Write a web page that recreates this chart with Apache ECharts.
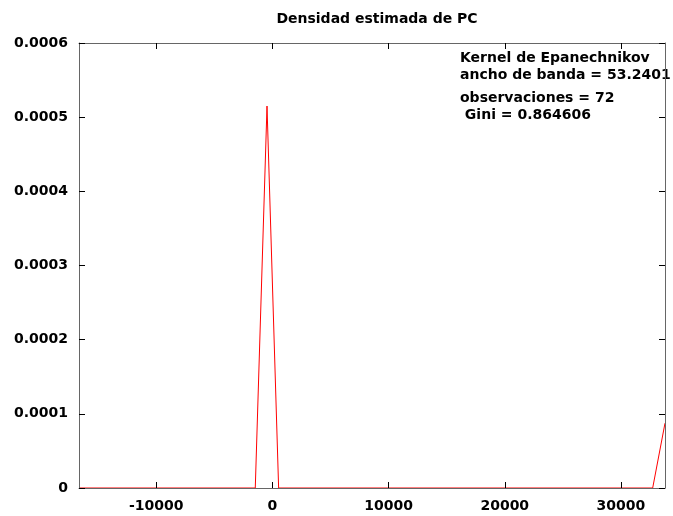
<!DOCTYPE html>
<html>
<head>
<meta charset="utf-8">
<script src="https://cdn.jsdelivr.net/npm/echarts@6/dist/echarts.min.js"></script>
<style>
  html, body { margin: 0; padding: 0; background: #fff; }
  #main { width: 673px; height: 516px; }
</style>
</head>
<body>
<div id="main"></div>
<script>
// estimated density curve (x, density)
var xs = [-16640, -1470, -460, 540, 32730, 33790];
var dens = [0, 0, 0.000515, 0, 0, 0.0000874];
var xTicks = [-10000, 0, 10000, 20000, 30000];
var yTicks = [0, 0.0001, 0.0002, 0.0003, 0.0004, 0.0005, 0.0006];
var notes = ['Kernel de Epanechnikov', 'ancho de banda = 53.2401', 'observaciones = 72', ' Gini = 0.864606'];

(function () {
    var chart = echarts.init(document.getElementById('main'));
    var font = 'DejaVu Sans';
    var frame = { show: true, onZero: false, lineStyle: { color: '#666', width: 1 } };
    var pts = xs.map(function (x, i) { return [x, dens[i]]; });

    var xBase = {
        type: 'value', min: -16640, max: 33790,
        axisLine: frame, splitLine: { show: false },
        axisTick: { inside: true, length: 6, customValues: xTicks, lineStyle: { color: '#000' } }
    };
    var yBase = {
        type: 'value', min: 0, max: 0.0006, interval: 0.0001,
        axisLine: frame, splitLine: { show: false },
        axisTick: { inside: true, length: 6, customValues: yTicks, lineStyle: { color: '#000' } }
    };

    var option = {
        animation: false,
        title: {
            text: 'Densidad estimada de PC',
            left: 372, top: 7, textAlign: 'center',
            textStyle: { fontFamily: font, fontSize: 14, fontWeight: 'bold', color: '#000' }
        },
        grid: { left: 79, right: 8, top: 43, bottom: 28 },
        xAxis: [
            Object.assign({}, xBase, {
                position: 'bottom',
                axisLabel: {
                    customValues: xTicks, margin: 11, fontFamily: font, fontSize: 14, fontWeight: 'bold', color: '#000',
                    formatter: function (v) { return String(v); }
                }
            }),
            Object.assign({}, xBase, { position: 'top', axisLabel: { show: false } })
        ],
        yAxis: [
            Object.assign({}, yBase, {
                position: 'left',
                axisLabel: {
                    customValues: yTicks, margin: 11, fontFamily: font, fontSize: 14, fontWeight: 'bold', color: '#000',
                    formatter: function (v) { return v === 0 ? '0' : v.toFixed(4); }
                }
            }),
            Object.assign({}, yBase, { position: 'right', axisLabel: { show: false } })
        ],
        series: [{
            type: 'line',
            data: pts,
            symbol: 'none',
            z: -1,
            clip: true,
            lineStyle: { color: '#ff0000', width: 1 }
        }],
        graphic: notes.map(function (t, i) {
            var ys = [58, 75, 98, 115];
            return {
                type: 'text', x: 460, y: ys[i],
                style: { text: t, fontFamily: font, fontSize: 14, fontWeight: 'bold', fill: '#000', verticalAlign: 'middle' }
            };
        })
    };
    chart.setOption(option);
})();
</script>
</body>
</html>
